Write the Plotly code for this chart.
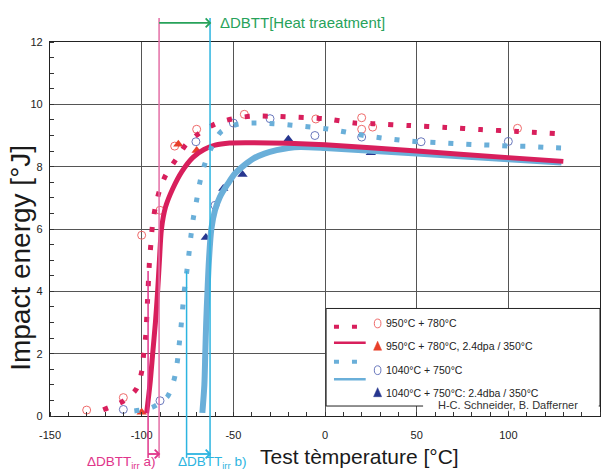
import plotly.graph_objects as go

# ---------------- measured Charpy data ----------------
# 950°C + 780°C, unirradiated (open circles)
t_950 = [-130, -110, -100, -90, -82, -70, -44, -5, 20, 20, 26, 105]
e_950 = [0.19, 0.59, 5.8, 6.6, 8.66, 9.2, 9.68, 9.53, 9.57, 9.2, 9.27, 9.23]
# 950°C + 780°C, 2.4 dpa / 350°C (filled triangles)
t_950_irr = [-100, -80, -70]
e_950_irr = [0.12, 8.72, 8.52]
# 1040°C + 750°C, unirradiated (open circles)
t_1040 = [-110, -90, -70.4, -60, -50, -30, -5.5, 20, 52.4, 100]
e_1040 = [0.21, 0.49, 8.8, 6.76, 9.4, 9.54, 9.0, 8.95, 8.8, 8.81]
# 1040°C + 750°C, 2.4 dpa / 350°C (filled triangles)
t_1040_irr = [-65, -55.5, -45, -20, 25]
e_1040_irr = [5.73, 7.3, 7.75, 8.88, 8.45]

# ---------------- fitted transition curves ----------------
fit_950_t = [-121, -110, -103, -100, -98.9, -97.8, -96.8, -95.8, -95, -94.2, -92.7,
             -90.4, -86.7, -81.3, -75.4, -68.2, -59.5, -50, -40, -30, -10, 0, 16,
             26, 46, 66, 85, 105, 127]
fit_950_e = [0.2, 0.48, 0.86, 1.42, 2.0, 2.57, 3.7, 4.9, 5.5, 6.07, 6.65,
             7.21, 7.75, 8.23, 8.74, 9.09, 9.38, 9.54, 9.62, 9.62, 9.57, 9.54, 9.4,
             9.38, 9.32, 9.26, 9.19, 9.13, 9.06]

fit_950_irr_t = [-97.3, -95.5, -94, -92.5, -91.3, -90.3, -89.2, -87, -83, -78, -72,
                 -66, -60, -52, -40, -20, 0, 50, 100, 130]
fit_950_irr_e = [0.09, 1.0, 2.0, 3.0, 4.0, 5.0, 6.0, 6.7, 7.3, 7.85, 8.3,
                 8.55, 8.69, 8.76, 8.77, 8.75, 8.7, 8.5, 8.29, 8.17]

fit_1040_t = [-104, -94.2, -86, -82.4, -80.6, -79.5, -78.5, -77.6, -76.7, -75.4,
              -74.2, -73.1, -71.8, -70, -68.2, -65.6, -62, -56.9, -47.8, -38, -28,
              -18, -8, 1.5, 11.3, 21.3, 31, 41, 51, 61, 70.5, 80.6, 90.4, 100.4,
              110, 120, 130]
fit_1040_e = [0.16, 0.28, 0.62, 1.15, 1.72, 2.31, 2.88, 3.48, 4.04, 4.63,
              5.21, 5.79, 6.36, 6.93, 7.51, 8.08, 8.6, 9.11, 9.36, 9.4, 9.38,
              9.33, 9.27, 9.21, 9.11, 9.0, 8.92, 8.85, 8.8, 8.77, 8.74, 8.71, 8.69,
              8.66, 8.65, 8.62, 8.6]

fit_1040_irr_t = [-66.9, -65.8, -65.3, -64.8, -64.1, -63.3, -62, -60, -57.3, -53,
                  -49.1, -44, -39.1, -33, -26.4, -20, -13.6, 0, 50, 100, 129]
fit_1040_irr_e = [0.1, 1.0, 2.0, 3.0, 4.0, 5.0, 6.0, 6.6, 7.03, 7.45,
                  7.78, 8.05, 8.26, 8.42, 8.53, 8.6, 8.63, 8.6, 8.42, 8.24, 8.13]

# DBTT values at half upper shelf
dbtt_950 = -96.5
dbtt_950_irr = -90.5
dbtt_1040 = -75.5
dbtt_1040_irr = -62.7
half_shelf = 4.65

x_tick_vals = [-150, -100, -50, 0, 50, 100, 150]
x_tick_text = ["-150", "-100", "-50", "0", "50", "100", "150"]
y_tick_vals = [0, 2, 4, 6, 8, 10, 12]

legend_labels = [
    "950°C + 780°C",
    "950°C + 780°C, 2.4dpa / 350°C",
    "1040°C + 750°C",
    "1040°C + 750°C: 2.4dba / 350°C",
]

# ---------------- styling ----------------
RED = "#d81f5c"
BLUE = "#6aafd9"
RED_CIRC = "#ef6a6a"
RED_TRI = "#e8402a"
BLUE_CIRC = "#6a78bd"
BLUE_TRI = "#27368f"
PINK = "#e46fa6"
PINK_TXT = "#e0358a"
CYAN = "#2cb4e0"
GREEN = "#27a25a"
FONT = "Liberation Sans, Arial, sans-serif"
DOTS = "5px,13px"

fig = go.Figure()

# measured points (drawn first, curves go over them)
fig.add_trace(go.Scatter(x=t_950, y=e_950, mode="markers",
                         marker=dict(symbol="circle-open", size=8, color=RED_CIRC, line=dict(width=1))))
fig.add_trace(go.Scatter(x=t_1040, y=e_1040, mode="markers",
                         marker=dict(symbol="circle-open", size=8, color=BLUE_CIRC, line=dict(width=1))))
fig.add_trace(go.Scatter(x=t_950_irr, y=e_950_irr, mode="markers",
                         marker=dict(symbol="triangle-up", size=9, color=RED_TRI)))
fig.add_trace(go.Scatter(x=t_1040_irr, y=e_1040_irr, mode="markers",
                         marker=dict(symbol="triangle-up", size=9, color=BLUE_TRI)))

# solid fits (irradiated)
fig.add_trace(go.Scatter(x=fit_1040_irr_t, y=fit_1040_irr_e, mode="lines",
                         line=dict(color=BLUE, width=6, shape="spline", smoothing=0.8)))
fig.add_trace(go.Scatter(x=fit_950_irr_t, y=fit_950_irr_e, mode="lines",
                         line=dict(color=RED, width=5, shape="spline", smoothing=0.8)))
# dotted fits (unirradiated)
fig.add_trace(go.Scatter(x=fit_950_t, y=fit_950_e, mode="lines",
                         line=dict(color=RED, width=5, dash=DOTS, shape="spline", smoothing=0.8)))
fig.add_trace(go.Scatter(x=fit_1040_t, y=fit_1040_e, mode="lines",
                         line=dict(color=BLUE, width=5, dash=DOTS, shape="spline", smoothing=0.8)))

shapes = []
annotations = []

# DBTT marker lines
Y_TOP = 1.064
Y_BOT = -0.112
for xv, col in [(dbtt_950_irr, PINK), (dbtt_1040_irr, CYAN)]:
    shapes.append(dict(type="line", xref="x", yref="paper", x0=xv, x1=xv, y0=Y_BOT, y1=Y_TOP,
                       line=dict(color=col, width=1.5)))
for xv, col in [(dbtt_950, PINK_TXT), (dbtt_1040, CYAN)]:
    shapes.append(dict(type="line", xref="x", yref="paper", x0=xv, x1=xv, y0=Y_BOT,
                       y1=half_shelf / 12, line=dict(color=col, width=1.5)))


def arrow(x0, x1, y, col):
    shapes.append(dict(type="line", xref="x", yref="paper", x0=x0, x1=x1, y0=y, y1=y,
                       line=dict(color=col, width=1.8)))
    shapes.append(dict(type="path", xref="x", yref="paper",
                       path=f"M {x1 - 2.4},{y + 0.012} L {x1},{y} L {x1 - 2.4},{y - 0.012}",
                       line=dict(color=col, width=1.8)))


arrow(dbtt_950_irr, dbtt_1040_irr, 1.051, GREEN)
arrow(dbtt_950, dbtt_950_irr, -0.1016, PINK_TXT)
arrow(dbtt_1040, dbtt_1040_irr, -0.1016, CYAN)

annotations.append(dict(x=-58.6, y=1.051, xref="x", yref="paper", xanchor="left", yanchor="middle",
                        text="ΔDBTT[Heat traeatment]", showarrow=False,
                        font=dict(family=FONT, size=15, color=GREEN)))
annotations.append(dict(x=-111.3, y=-0.1235, xref="x", yref="paper", xanchor="center", yanchor="middle",
                        text="ΔDBTT<sub>irr</sub> a)", showarrow=False,
                        font=dict(family=FONT, size=13.5, color=PINK_TXT)))
annotations.append(dict(x=-61.6, y=-0.1235, xref="x", yref="paper", xanchor="center", yanchor="middle",
                        text="ΔDBTT<sub>irr</sub> b)", showarrow=False,
                        font=dict(family=FONT, size=13.5, color=CYAN)))

# axis titles
annotations.append(dict(x=0.562, y=-0.107, xref="paper", yref="paper", xanchor="center", yanchor="middle",
                        text="Test tèmperature [°C]", showarrow=False,
                        font=dict(family=FONT, size=21, color="#1a1a1a")))
annotations.append(dict(x=-0.053, y=0.4225, xref="paper", yref="paper", xanchor="center", yanchor="middle",
                        text="Impact energy [°J]", textangle=-90, showarrow=False,
                        font=dict(family=FONT, size=28, color="#1a1a1a")))

# legend box
shapes.append(dict(type="rect", xref="x", yref="y", x0=0.6, x1=150, y0=0.32, y1=3.45,
                   fillcolor="white", line=dict(color="#222", width=1)))
shapes.append(dict(type="rect", xref="x", yref="y", x0=53.5, x1=149.3, y0=0.17, y1=0.56,
                   fillcolor="white", line=dict(width=0)))
for y, col, dash, w in [(2.86, RED, DOTS, 4), (2.35, RED, "solid", 2.5),
                        (1.74, BLUE, DOTS, 4), (1.18, BLUE, "solid", 2.5)]:
    shapes.append(dict(type="line", xref="x", yref="y", x0=4.9, x1=22.2, y0=y, y1=y,
                       line=dict(color=col, width=w, dash=dash)))
for y, col in [(2.97, RED_CIRC), (1.47, BLUE_CIRC)]:
    shapes.append(dict(type="circle", xref="x", yref="y", x0=26.9, x1=30.5, y0=y - 0.14, y1=y + 0.14,
                       line=dict(color=col, width=1)))
for y, col in [(2.24, RED_TRI), (0.75, BLUE_TRI)]:
    shapes.append(dict(type="path", xref="x", yref="y",
                       path=f"M 26.5,{y - 0.13} L 30.9,{y - 0.13} L 28.7,{y + 0.16} Z",
                       fillcolor=col, line=dict(color=col, width=0.5)))
for y, txt in zip([2.97, 2.24, 1.47, 0.75], legend_labels):
    annotations.append(dict(x=32.2, y=y, xref="x", yref="y", xanchor="left", yanchor="middle",
                            text=txt, showarrow=False, font=dict(family=FONT, size=10.5, color="#222")))
annotations.append(dict(x=100, y=0.36, xref="x", yref="y", xanchor="center", yanchor="middle",
                        text="H-C. Schneider, B. Dafferner", showarrow=False,
                        font=dict(family=FONT, size=11, color="#333")))

fig.update_layout(
    width=608, height=471,
    margin=dict(l=50, r=8, t=42, b=55),
    paper_bgcolor="white", plot_bgcolor="white",
    showlegend=False,
    font=dict(family=FONT, size=11, color="#222"),
    shapes=shapes,
    annotations=annotations,
    xaxis=dict(range=[-150, 150], tickvals=x_tick_vals, ticktext=x_tick_text,
               showgrid=True, gridcolor="#555", gridwidth=1, zeroline=False,
               showline=True, linecolor="#222", linewidth=1.3, mirror=True,
               ticks="", ticklabelstandoff=9, tickfont=dict(size=11, color="#222"),
               minor=dict(dtick=10, ticks="inside", ticklen=4, tickcolor="#333", showgrid=False)),
    yaxis=dict(range=[0, 12], tickvals=y_tick_vals,
               showgrid=True, gridcolor="#555", gridwidth=1, zeroline=False,
               showline=True, linecolor="#222", linewidth=1.3, mirror=True,
               ticks="", ticklabelstandoff=4, tickfont=dict(size=11, color="#222"),
               minor=dict(dtick=0.5, ticks="inside", ticklen=4, tickcolor="#333", showgrid=False)),
)

fig.write_html("out.html")
